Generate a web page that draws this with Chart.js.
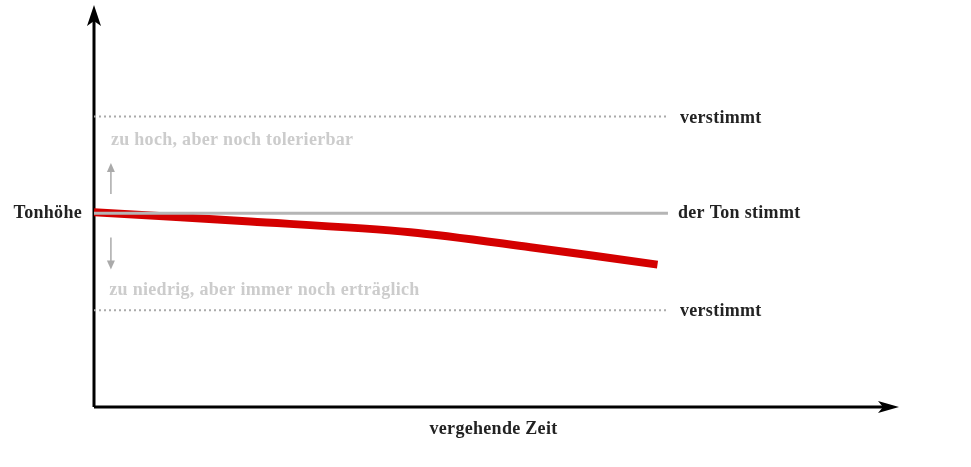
<!DOCTYPE html>
<html lang="de">
<head>
  <meta charset="UTF-8" />
  <title>Tonhöhe über die Zeit</title>
  <style>
    html, body { margin: 0; padding: 0; background: #fff; }
    .chart-container { width: 971px; height: 467px; }
  </style>
</head>
<body>
<div class="chart-container"><canvas id="pitchChart"></canvas></div>

<script src="https://cdn.jsdelivr.net/npm/chart.js"></script>
<script>
// time (arbitrary units) and pitch deviation of the note
const timeSteps   = [0, 19.4, 39.3, 54.2, 70];
const pitchValues = [0.1, -0.85, -1.95, -3.5, -5.3];

// reference levels
const tunedLevel  = 0;
const upperLimit  = 10;
const lowerLimit  = -10;
const refLineEnd  = 71.3;

const xLabel = 'vergehende Zeit';
const yLabel = 'Tonhöhe';
const tunedText = 'der Ton stimmt';
const limitText = 'verstimmt';
const highText = 'zu hoch, aber noch tolerierbar';
const lowText = 'zu niedrig, aber immer noch erträglich';

const FONT = 'bold 18px "Liberation Serif", "Times New Roman", serif';

const refLine = (y) => [{ x: 0, y: y }, { x: refLineEnd, y: y }];

// axes with arrow heads, labels and small hint arrows
const decor = {
  id: 'decor',
  beforeDatasetsDraw(chart) {
    const { ctx, chartArea: a } = chart;
    ctx.save();
    ctx.strokeStyle = '#000';
    ctx.fillStyle = '#000';
    ctx.lineWidth = 3;
    // y axis
    ctx.beginPath();
    ctx.moveTo(a.left, a.bottom);
    ctx.lineTo(a.left, a.top + 12);
    ctx.stroke();
    ctx.beginPath();
    ctx.moveTo(a.left, a.top);
    ctx.lineTo(a.left - 7, a.top + 21);
    ctx.lineTo(a.left, a.top + 16);
    ctx.lineTo(a.left + 7, a.top + 21);
    ctx.closePath();
    ctx.fill();
    // x axis
    ctx.beginPath();
    ctx.moveTo(a.left, a.bottom);
    ctx.lineTo(a.right - 12, a.bottom);
    ctx.stroke();
    ctx.beginPath();
    ctx.moveTo(a.right, a.bottom);
    ctx.lineTo(a.right - 21, a.bottom - 6);
    ctx.lineTo(a.right - 16, a.bottom);
    ctx.lineTo(a.right - 21, a.bottom + 6);
    ctx.closePath();
    ctx.fill();
    ctx.restore();
  },
  afterDatasetsDraw(chart) {
    const { ctx, chartArea: a, scales: { x, y } } = chart;
    ctx.save();
    ctx.font = FONT;
    ctx.letterSpacing = '0.3px';
    ctx.textBaseline = 'middle';

    ctx.fillStyle = '#222';
    ctx.textAlign = 'right';
    ctx.fillText(yLabel, a.left - 12, y.getPixelForValue(tunedLevel));

    ctx.textAlign = 'left';
    const lx = x.getPixelForValue(refLineEnd) + 12;
    ctx.fillText(limitText, lx, y.getPixelForValue(upperLimit) + 1.5);
    ctx.fillText(tunedText, lx - 2, y.getPixelForValue(tunedLevel));
    ctx.fillText(limitText, lx, y.getPixelForValue(lowerLimit) + 1.5);

    ctx.textAlign = 'center';
    ctx.fillText(xLabel, (a.left + a.right) / 2 - 3, a.bottom + 22);

    ctx.fillStyle = '#cccccc';
    ctx.textAlign = 'left';
    ctx.fillText(highText, x.getPixelForValue(2.1), y.getPixelForValue(7.55));
    ctx.fillText(lowText, x.getPixelForValue(1.9), y.getPixelForValue(-8));

    // small hint arrows
    const ax = x.getPixelForValue(2.1);
    const arrow = (from, to) => {
      const y0 = y.getPixelForValue(from), y1 = y.getPixelForValue(to);
      const d = Math.sign(y1 - y0);
      ctx.strokeStyle = '#aaaaaa';
      ctx.fillStyle = '#aaaaaa';
      ctx.lineWidth = 1.5;
      ctx.beginPath();
      ctx.moveTo(ax, y0);
      ctx.lineTo(ax, y1 - d * 6);
      ctx.stroke();
      ctx.beginPath();
      ctx.moveTo(ax, y1);
      ctx.lineTo(ax - 4, y1 - d * 9);
      ctx.lineTo(ax + 4, y1 - d * 9);
      ctx.closePath();
      ctx.fill();
    };
    arrow(2, 5.2);
    arrow(-2.5, -5.8);
    ctx.restore();
  }
};

new Chart(document.getElementById('pitchChart'), {
  type: 'line',
  data: {
    datasets: [
      { data: refLine(upperLimit), borderColor: '#aaaaaa', borderWidth: 2, borderDash: [2, 3] },
      { data: refLine(lowerLimit), borderColor: '#aaaaaa', borderWidth: 2, borderDash: [2, 3] },
      { data: refLine(tunedLevel), borderColor: '#b5b5b5', borderWidth: 3 },
      {
        data: timeSteps.map((t, i) => ({ x: t, y: pitchValues[i] })),
        borderColor: '#d40000',
        borderWidth: 8,
        tension: 0.3,
        borderCapStyle: 'butt'
      }
    ]
  },
  options: {
    responsive: true,
    maintainAspectRatio: false,
    animation: false,
    events: [],
    layout: { padding: { left: 94, right: 72, top: 5, bottom: 60 } },
    elements: { point: { radius: 0 } },
    plugins: { legend: { display: false }, tooltip: { enabled: false } },
    scales: {
      x: { type: 'linear', min: 0, max: 100, display: false },
      y: { type: 'linear', min: -20, max: 21.5, display: false }
    }
  },
  plugins: [decor]
});
</script>
</body>
</html>
